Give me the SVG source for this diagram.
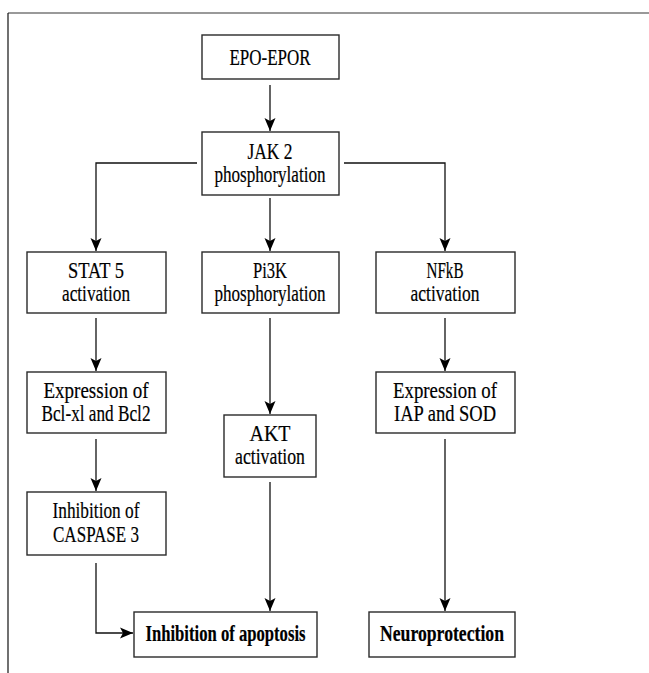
<svg xmlns="http://www.w3.org/2000/svg" width="649" height="673" viewBox="0 0 649 673">
<style>
.box{fill:#fff;stroke:#2a2a2a;stroke-width:1.4}
.t{font-family:"Liberation Serif","DejaVu Serif","Times New Roman",serif;font-size:23px;fill:#000;stroke:#000;stroke-width:0.2;text-anchor:middle}
.b{font-weight:bold}
.c{fill:none;stroke:#111;stroke-width:1.3}
</style>
<defs>
<marker id="ah" markerUnits="userSpaceOnUse" markerWidth="14" markerHeight="12" refX="13" refY="6" orient="auto">
<path d="M0,0.5 L13,6 L0,11.5 L3,6 Z" fill="#000"/>
</marker>
</defs>
<rect width="649" height="673" fill="#fff"/>
<g id="frame">
<line x1="8" y1="13" x2="649" y2="13" stroke="#777" stroke-width="1.5"/>
<line x1="8" y1="13" x2="8" y2="673" stroke="#111" stroke-width="1.2"/>
</g>
<g id="connectors">
<path class="c" d="M270,85 V131" marker-end="url(#ah)"/>
<path class="c" d="M197,163 H96 V251" marker-end="url(#ah)"/>
<path class="c" d="M344,163 H445 V251" marker-end="url(#ah)"/>
<path class="c" d="M270,198 V251" marker-end="url(#ah)"/>
<path class="c" d="M96,318 V371" marker-end="url(#ah)"/>
<path class="c" d="M270,318 V414" marker-end="url(#ah)"/>
<path class="c" d="M445,318 V371" marker-end="url(#ah)"/>
<path class="c" d="M96,439 V491" marker-end="url(#ah)"/>
<path class="c" d="M96,563 V633 H133" marker-end="url(#ah)"/>
<path class="c" d="M270,482 V611" marker-end="url(#ah)"/>
<path class="c" d="M445,439 V611" marker-end="url(#ah)"/>
</g>
<g id="epo">
<rect class="box" x="202" y="35" width="137" height="44"/>
<text class="t" x="270" y="65" textLength="81" lengthAdjust="spacingAndGlyphs">EPO-EPOR</text>
</g>
<g id="jak2">
<rect class="box" x="202" y="132" width="137" height="63"/>
<text class="t" x="270" y="159" textLength="45" lengthAdjust="spacingAndGlyphs">JAK 2</text>
<text class="t" x="270" y="182" textLength="111" lengthAdjust="spacingAndGlyphs">phosphorylation</text>
</g>
<g id="stat5">
<rect class="box" x="27" y="252" width="139" height="61"/>
<text class="t" x="96" y="278" textLength="56" lengthAdjust="spacingAndGlyphs">STAT 5</text>
<text class="t" x="96" y="301" textLength="68" lengthAdjust="spacingAndGlyphs">activation</text>
</g>
<g id="pi3k">
<rect class="box" x="202" y="252" width="137" height="61"/>
<text class="t" x="270" y="278" textLength="34" lengthAdjust="spacingAndGlyphs">Pi3K</text>
<text class="t" x="270" y="301" textLength="111" lengthAdjust="spacingAndGlyphs">phosphorylation</text>
</g>
<g id="nfkb">
<rect class="box" x="376" y="252" width="139" height="61"/>
<text class="t" x="445" y="278" textLength="37" lengthAdjust="spacingAndGlyphs">NFkB</text>
<text class="t" x="445" y="301" textLength="69" lengthAdjust="spacingAndGlyphs">activation</text>
</g>
<g id="bcl">
<rect class="box" x="27" y="372" width="139" height="61"/>
<text class="t" x="96" y="398" textLength="105" lengthAdjust="spacingAndGlyphs">Expression of</text>
<text class="t" x="96" y="421" textLength="109" lengthAdjust="spacingAndGlyphs">Bcl-xl and Bcl2</text>
</g>
<g id="iap">
<rect class="box" x="376" y="372" width="139" height="61"/>
<text class="t" x="445" y="398" textLength="104" lengthAdjust="spacingAndGlyphs">Expression of</text>
<text class="t" x="445" y="421" textLength="102" lengthAdjust="spacingAndGlyphs">IAP and SOD</text>
</g>
<g id="akt">
<rect class="box" x="224" y="415" width="92" height="62"/>
<text class="t" x="270" y="441" textLength="41" lengthAdjust="spacingAndGlyphs">AKT</text>
<text class="t" x="270" y="464" textLength="70" lengthAdjust="spacingAndGlyphs">activation</text>
</g>
<g id="casp">
<rect class="box" x="27" y="492" width="139" height="63"/>
<text class="t" x="96" y="518" textLength="87" lengthAdjust="spacingAndGlyphs">Inhibition of</text>
<text class="t" x="96" y="542" textLength="86" lengthAdjust="spacingAndGlyphs">CASPASE 3</text>
</g>
<g id="apoptosis">
<rect class="box" x="134" y="612" width="183" height="45"/>
<text class="t b" x="225.5" y="641" textLength="160" lengthAdjust="spacingAndGlyphs">Inhibition of apoptosis</text>
</g>
<g id="neuro">
<rect class="box" x="369" y="612" width="146" height="45"/>
<text class="t b" x="442" y="641" textLength="124" lengthAdjust="spacingAndGlyphs">Neuroprotection</text>
</g>
</svg>
